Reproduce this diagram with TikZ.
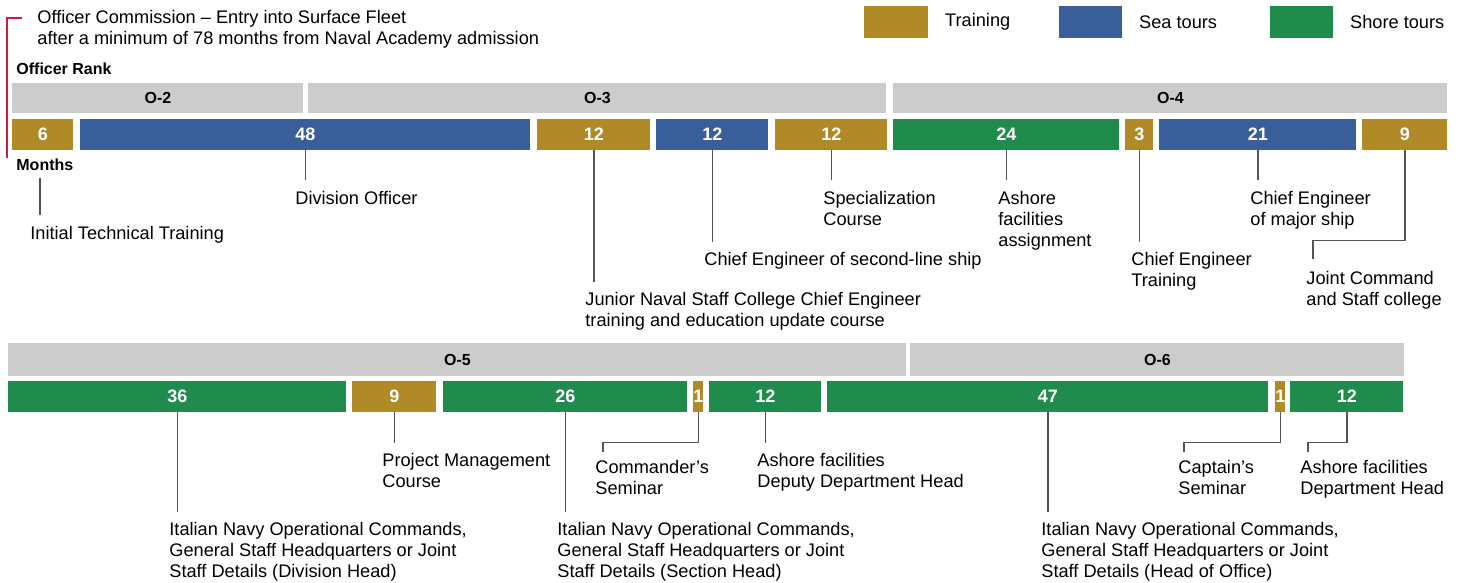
\documentclass[tikz,border=0pt]{standalone}
\usepackage{fontspec}
\setmainfont{Liberation Sans}
\usetikzlibrary{positioning}
\definecolor{trainC}{HTML}{B08A26}
\definecolor{seaC}{HTML}{3A5E9A}
\definecolor{shoreC}{HTML}{1F8B4C}
\definecolor{rankC}{HTML}{CCCCCC}
\definecolor{lineC}{HTML}{555555}
\definecolor{markC}{HTML}{C41E3A}
\begin{document}
\begin{tikzpicture}[x=0.5pt, y=-0.5pt,
		seg/.style={minimum height=15.5pt, inner sep=0pt, anchor=west, text=white, font=\bfseries\fontsize{9}{9}\selectfont},
		train/.style={seg, fill=trainC},
		sea/.style={seg, fill=seaC},
		shore/.style={seg, fill=shoreC},
		rank/.style={fill=rankC, inner sep=0pt, anchor=west, font=\bfseries\fontsize{8}{8}\selectfont},
		hd/.style={inner sep=0pt, anchor=west, font=\bfseries\fontsize{8}{8}\selectfont},
		lbl/.style={anchor=north west, inner sep=0pt, align=left, font=\fontsize{9.1}{10.5}\selectfont},
		key/.style={inner sep=0pt, font=\fontsize{9.1}{10.5}\selectfont},
		conn/.style={draw=lineC, line width=0.75pt, shorten >=5pt},
		elb/.style={draw=lineC, line width=0.75pt}]
		\useasboundingbox (0,0) rectangle (1463,583);
		% legend
		\node[train, minimum width=32pt, minimum height=16pt] (kT) at (864,22) {};
		\node[sea, minimum width=31.5pt, minimum height=16pt] (kS) at (1059,22) {};
		\node[shore, minimum width=31.5pt, minimum height=16pt] (kH) at (1270,22) {};
		\node[key, right=8pt of kT] (kTt) {Training};
		\node[key, right=8pt of kS] (kSt) {Sea tours};
		\node[key, right=8pt of kH] (kHt) {Shore tours};
		% heading
		\node[lbl] (hdr) at (37,9.5) {Officer Commission -- Entry into Surface Fleet\\after a minimum of 78 months from Naval Academy admission};
		\draw[markC, line width=1pt] (22,18) -- (7,18) -- (7,158);
		\node[hd] (orank) at (16,69) {Officer Rank};
		\node[hd] (months) at (16,165) {Months};
		% ranks
		\node[rank, minimum width=145.5pt, minimum height=15pt] (r2) at (12,98) {O-2};
		\node[rank, minimum width=289pt, minimum height=15pt] (r3) at (308,98) {O-3};
		\node[rank, minimum width=277pt, minimum height=15pt] (r4) at (893,98) {O-4};
		\node[rank, minimum width=449pt, minimum height=16.5pt] (r5) at (8,359.5) {O-5};
		\node[rank, minimum width=247pt, minimum height=16.5pt] (r6) at (910,359.5) {O-6};
		% first row of tours
		\node[train, minimum width=30.5pt] (a1) at (12,134.5) {6};
		\node[sea, minimum width=225pt] (a2) at (80,134.5) {48};
		\node[train, minimum width=56.5pt] (a3) at (537,134.5) {12};
		\node[sea, minimum width=56pt] (a4) at (656,134.5) {12};
		\node[train, minimum width=56pt] (a5) at (775,134.5) {12};
		\node[shore, minimum width=113pt] (a6) at (893,134.5) {24};
		\node[train, minimum width=14pt] (a7) at (1125,134.5) {3};
		\node[sea, minimum width=98.5pt] (a8) at (1159,134.5) {21};
		\node[train, minimum width=42.5pt] (a9) at (1362,134.5) {9};
		% second row of tours
		\node[shore, minimum width=169pt] (b1) at (8,396.5) {36};
		\node[train, minimum width=42pt] (b2) at (352,396.5) {9};
		\node[shore, minimum width=122pt] (b3) at (443,396.5) {26};
		\node[train, minimum width=4.5pt] (b4) at (693,396.5) {1};
		\node[shore, minimum width=56pt] (b5) at (709,396.5) {12};
		\node[shore, minimum width=220.5pt] (b6) at (827,396.5) {47};
		\node[train, minimum width=4.5pt] (b7) at (1275,396.5) {1};
		\node[shore, minimum width=56.5pt] (b8) at (1290,396.5) {12};
		% labels, first row
		\node[lbl] (lItt) at (30,225.5) {Initial Technical Training};
		\node[lbl] (lDiv) at (295,190.5) {Division Officer};
		\node[lbl] (lJun) at (585,291.5) {Junior Naval Staff College Chief Engineer\\training and education update course};
		\node[lbl] (lSec) at (704,251.5) {Chief Engineer of second-line ship};
		\node[lbl] (lSpe) at (823,190.5) {Specialization\\Course};
		\node[lbl] (lAsh) at (998,190.5) {Ashore\\facilities\\assignment};
		\node[lbl] (lCet) at (1131,251.5) {Chief Engineer\\Training};
		\node[lbl] (lMaj) at (1250,190.5) {Chief Engineer\\of major ship};
		\node[lbl] (lJcs) at (1306,270.5) {Joint Command\\and Staff college};
		% labels, second row
		\node[lbl] (lDh) at (169,521.5) {Italian Navy Operational Commands,\\General Staff Headquarters or Joint\\Staff Details (Division Head)};
		\node[lbl] (lPm) at (382,452.5) {Project Management\\Course};
		\node[lbl] (lSh) at (557,521.5) {Italian Navy Operational Commands,\\General Staff Headquarters or Joint\\Staff Details (Section Head)};
		\node[lbl] (lCs) at (595,459.5) {Commander’s\\Seminar};
		\node[lbl] (lDd) at (757,452.5) {Ashore facilities\\Deputy Department Head};
		\node[lbl] (lHo) at (1041,521.5) {Italian Navy Operational Commands,\\General Staff Headquarters or Joint\\Staff Details (Head of Office)};
		\node[lbl] (lCap) at (1178,459.5) {Captain’s\\Seminar};
		\node[lbl] (lDph) at (1300,459.5) {Ashore facilities\\Department Head};
		% connectors
		\coordinate (m0) at (40,178);
		\draw[conn] (m0) -- (m0 |- lItt.north);
		\draw[conn] (a2.south) -- (a2.south |- lDiv.north);
		\draw[conn] (a3.south) -- (a3.south |- lJun.north);
		\draw[conn] (a4.south) -- (a4.south |- lSec.north);
		\draw[conn] (a5.south) -- (a5.south |- lSpe.north);
		\draw[conn] (a6.south) -- (a6.south |- lAsh.north);
		\draw[conn] (a7.south) -- (a7.south |- lCet.north);
		\draw[conn] (a8.south) -- (a8.south |- lMaj.north);
		\draw[elb] (a9.south) -- ++(0,90) -| ([shift={(3.5pt,5.75pt)}]lJcs.north west);
		\draw[conn] (b1.south) -- (b1.south |- lDh.north);
		\draw[conn] (b2.south) -- (b2.south |- lPm.north);
		\draw[conn] (b3.south) -- (b3.south |- lSh.north);
		\draw[elb] (b4.south) -- ++(0,30) -| ([shift={(4pt,3.75pt)}]lCs.north west);
		\draw[conn] (b5.south) -- (b5.south |- lDd.north);
		\draw[conn] (b6.south) -- (b6.south |- lHo.north);
		\draw[elb] (b7.south) -- ++(0,30) -| ([shift={(3pt,3.75pt)}]lCap.north west);
		\draw[elb] (b8.south) -- ++(0,30) -| ([shift={(4pt,3.75pt)}]lDph.north west);
	\end{tikzpicture}
\end{document}
